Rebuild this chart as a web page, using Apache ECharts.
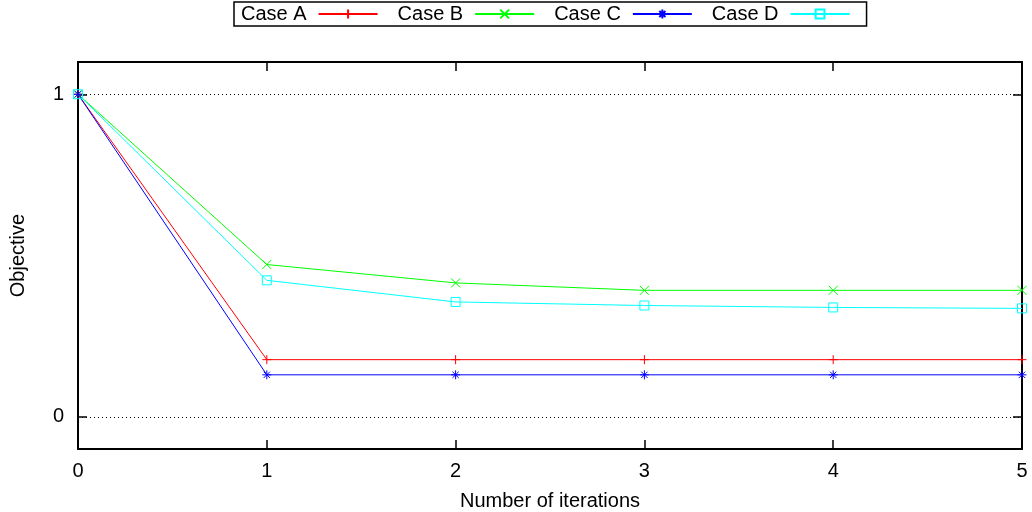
<!DOCTYPE html>
<html>
<head>
<meta charset="utf-8">
<script src="https://cdn.jsdelivr.net/npm/echarts@6/dist/echarts.min.js"></script>
<style>
html,body{margin:0;padding:0;background:#fff;}
#chart{width:1032px;height:512px;}
</style>
</head>
<body>
<div id="chart"></div>
<script>
const iterations = [0, 1, 2, 3, 4, 5];
const seriesNames = ['Case A', 'Case B', 'Case C', 'Case D'];
const caseA = [1, 0.177, 0.177, 0.177, 0.177, 0.177];
const caseB = [1, 0.472, 0.415, 0.392, 0.392, 0.392];
const caseC = [1, 0.130, 0.130, 0.130, 0.130, 0.130];
const caseD = [1, 0.423, 0.356, 0.345, 0.339, 0.336];
const yTicks = [0, 1];

const FONT = 'Liberation Sans, Arial, sans-serif';
const FS = 20;
const colors = ['#ff0000', '#00ff00', '#0000ff', '#00ffff'];
const symbols = [
  'path://M0,5L10,5M5,0L5,10',
  'path://M0,0L10,10M10,0L0,10',
  'path://M0,5L10,5M5,0L5,10M1.5,1.5L8.5,8.5M8.5,1.5L1.5,8.5',
  'path://M0,0L10,0L10,10L0,10Z'
];
const allData = [caseA, caseB, caseC, caseD];

function pairs(vals) { return iterations.map((x, i) => [x, vals[i]]); }

const series = seriesNames.map((name, k) => ({
  name: name,
  type: 'line',
  xAxisIndex: 0,
  yAxisIndex: 0,
  data: pairs(allData[k]),
  symbol: symbols[k],
  symbolSize: 9,
  showAllSymbol: true,
  animation: false,
  lineStyle: { color: colors[k], width: 1 },
  itemStyle: { color: 'rgba(0,0,0,0)', borderColor: colors[k], borderWidth: 1 },
  emphasis: { disabled: true }
}));

const axisLine = () => ({ show: true, onZero: false, lineStyle: { color: '#000', width: 2 } });
const tick = (cv) => ({ show: true, inside: true, length: 9, customValues: cv, lineStyle: { color: '#000', width: 1.5 } });

const chart = echarts.init(document.getElementById('chart'), null, { renderer: 'canvas' });
chart.setOption({
  animation: false,
  backgroundColor: '#fff',
  grid: { left: 78, right: 10, top: 62, bottom: 63, show: false, containLabel: false, outerBoundsMode: 'none' },
  legend: {
    data: seriesNames,
    left: 234,
    top: 2,
    align: 'right',
    orient: 'horizontal',
    itemWidth: 59,
    itemHeight: 11,
    itemGap: 19,
    padding: [2, 16, 2, 7],
    borderColor: '#000',
    borderWidth: 1.5,
    textStyle: { color: '#000', fontFamily: FONT, fontSize: FS, padding: [0, 7, 0, 0] },
    selectedMode: false
  },
  xAxis: [
    {
      type: 'value', min: 0, max: 5, interval: 1, position: 'bottom',
      name: 'Number of iterations', nameLocation: 'middle', nameGap: 42,
      nameTextStyle: { color: '#000', fontFamily: FONT, fontSize: FS },
      axisLine: axisLine(),
      axisTick: tick(undefined),
      axisLabel: { show: true, margin: 12, color: '#000', fontFamily: FONT, fontSize: FS },
      splitLine: { show: false }
    },
    {
      type: 'value', min: 0, max: 5, interval: 1, position: 'top',
      axisLine: axisLine(),
      axisTick: tick(undefined),
      axisLabel: { show: false },
      splitLine: { show: false }
    }
  ],
  yAxis: [
    {
      type: 'value', min: -0.1, max: 1.1, position: 'left',
      name: 'Objective', nameLocation: 'middle', nameGap: 50, nameRotate: 90,
      nameTextStyle: { color: '#000', fontFamily: FONT, fontSize: FS },
      axisLine: axisLine(),
      axisTick: tick(yTicks),
      axisLabel: { show: true, margin: 14, customValues: yTicks, color: '#000', fontFamily: FONT, fontSize: FS },
      splitLine: { show: true, lineStyle: { color: '#000', width: 1, type: [1, 3] } }
    },
    {
      type: 'value', min: -0.1, max: 1.1, position: 'right',
      axisLine: axisLine(),
      axisTick: tick(yTicks),
      axisLabel: { show: false, customValues: yTicks },
      splitLine: { show: false }
    }
  ],
  series: series
});
</script>
</body>
</html>
